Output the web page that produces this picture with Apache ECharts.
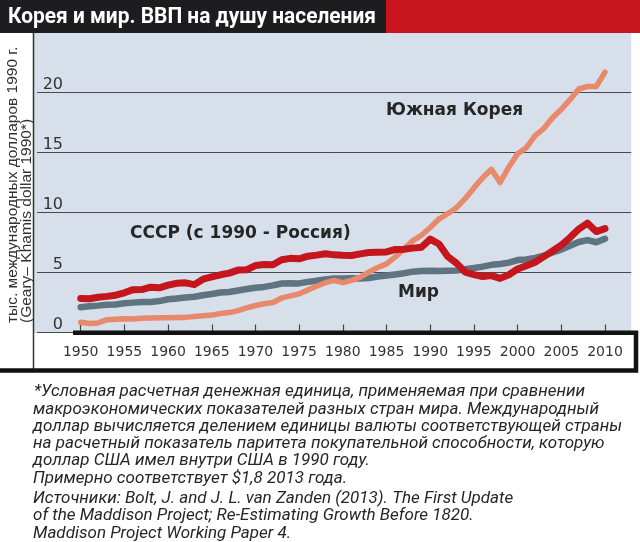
<!DOCTYPE html>
<html>
<head>
<meta charset="utf-8">
<script src="https://cdn.jsdelivr.net/npm/echarts@6/dist/echarts.min.js"></script>
<style>
html,body{margin:0;padding:0;background:#fff;}
#chart{width:640px;height:542px;}
</style>
</head>
<body>
<div id="chart"></div>
<script>
const years = [1950,1951,1952,1953,1954,1955,1956,1957,1958,1959,
  1960,1961,1962,1963,1964,1965,1966,1967,1968,1969,
  1970,1971,1972,1973,1974,1975,1976,1977,1978,1979,
  1980,1981,1982,1983,1984,1985,1986,1987,1988,1989,
  1990,1991,1992,1993,1994,1995,1996,1997,1998,1999,
  2000,2001,2002,2003,2004,2005,2006,2007,2008,2009,2010];

const southKorea = [0.85,0.75,0.80,1.07,1.10,1.14,1.12,1.18,1.21,1.23,
  1.23,1.25,1.26,1.33,1.40,1.45,1.58,1.66,1.82,2.05,
  2.25,2.40,2.50,2.88,3.05,3.22,3.55,3.85,4.15,4.35,
  4.15,4.35,4.62,5.05,5.42,5.72,6.30,6.95,7.65,8.10,
  8.75,9.45,9.90,10.40,11.15,12.05,12.90,13.60,12.50,13.80,
  14.90,15.40,16.40,17.00,17.90,18.60,19.40,20.30,20.50,20.50,21.70];

const ussrRussia = [2.84,2.81,2.94,3.01,3.11,3.31,3.57,3.58,3.78,3.72,
  3.95,4.10,4.14,3.99,4.44,4.63,4.81,4.95,5.20,5.23,
  5.58,5.67,5.64,6.06,6.18,6.14,6.36,6.45,6.56,6.47,
  6.43,6.42,6.55,6.66,6.68,6.71,6.92,6.94,7.03,7.10,
  7.78,7.37,6.33,5.78,5.04,4.83,4.66,4.74,4.51,4.81,
  5.29,5.57,5.86,6.32,6.79,7.28,7.91,8.62,9.11,8.41,8.66];

const world = [2.11,2.19,2.24,2.31,2.34,2.43,2.49,2.54,2.55,2.62,
  2.77,2.83,2.91,2.98,3.11,3.21,3.33,3.38,3.50,3.63,
  3.73,3.80,3.93,4.08,4.10,4.09,4.22,4.31,4.42,4.51,
  4.51,4.52,4.49,4.54,4.66,4.75,4.84,4.94,5.07,5.13,
  5.15,5.13,5.14,5.16,5.27,5.37,5.49,5.64,5.71,5.82,
  6.04,6.09,6.21,6.40,6.67,6.91,7.22,7.54,7.70,7.52,7.81];

const xTickLabels = [1950,1955,1960,1965,1970,1975,1980,1985,1990,1995,2000,2005,2010];
const yTickLabels = [0,5,10,15,20];

const titleText = 'Корея и мир. ВВП на душу населения';
const yAxisTitle = 'тыс. международных долларов 1990 г.\n(Geary– Khamis dollar 1990*)';
const labelKorea = 'Южная Корея';
const labelUSSR = 'СССР (с 1990 - Россия)';
const labelWorld = 'Мир';
const footnote1 = [
  '*Условная расчетная денежная единица, применяемая при сравнении',
  'макроэкономических показателей разных стран мира. Международный',
  'доллар вычисляется делением единицы валюты соответствующей страны',
  'на расчетный показатель паритета покупательной способности, которую',
  'доллар США имел внутри США в 1990 году.',
  'Примерно соответствует $1,8 2013 года.'
];
const footnote2 = [
  'Источники: Bolt, J. and J. L. van Zanden (2013). The First Update',
  'of the Maddison Project; Re-Estimating Growth Before 1820.',
  'Maddison Project Working Paper 4.'
];

function pairs(vals){ return years.map((y,i)=>[y, vals[i]]); }

const chart = echarts.init(document.getElementById('chart'), null, {renderer:'canvas'});

const graphics = [
  {type:'rect', shape:{x:0,y:0,width:386,height:33}, style:{fill:'#1d1d1f'}, z:20},
  {type:'rect', shape:{x:386,y:0,width:254,height:33}, style:{fill:'#c8151d'}, z:20},
  {type:'text', x:8, y:17, scaleX:0.95, z:21,
    style:{text:titleText, fill:'#ffffff', fontFamily:'Roboto', fontWeight:'bold', fontSize:22, verticalAlign:'middle'}},
  {type:'rect', shape:{x:34,y:33,width:4,height:300}, style:{fill:'#d6dfea'}, z:-1},
  {type:'line', shape:{x1:33.5,y1:33,x2:33.5,y2:370}, style:{stroke:'#333', lineWidth:1.5}, z:20},
  {type:'polyline', shape:{points:[[73,332.7],[636,332.7],[636,370.5],[0,370.5]]},
    style:{stroke:'#111', lineWidth:4.5, fill:null, lineJoin:'miter'}, z:20},
  {type:'text', x:6, y:323, rotation:Math.PI/2, z:20,
    style:{text:yAxisTitle, fill:'#333', fontFamily:'Liberation Sans', fontSize:15.5, lineHeight:14, align:'left', verticalAlign:'top'}},
  {type:'text', x:386, y:111, z:20,
    style:{text:labelKorea, fill:'#262626', fontFamily:'DejaVu Sans', fontWeight:'bold', fontSize:17, verticalAlign:'middle'}},
  {type:'text', x:130, y:234, z:20,
    style:{text:labelUSSR, fill:'#262626', fontFamily:'DejaVu Sans', fontWeight:'bold', fontSize:17, verticalAlign:'middle'}},
  {type:'text', x:398, y:293, z:20,
    style:{text:labelWorld, fill:'#262626', fontFamily:'DejaVu Sans', fontWeight:'bold', fontSize:17, verticalAlign:'middle'}}
];
const footStyle = {fill:'#262626', fontFamily:'Roboto', fontStyle:'italic', fontSize:17, verticalAlign:'middle'};
footnote1.forEach((t,i)=>{
  graphics.push({type:'text', x:(i===0?34:33), y:392 + i*17.3, z:20,
    style:Object.assign({text:t}, footStyle)});
});
footnote2.forEach((t,i)=>{
  graphics.push({type:'text', x:33, y:392 + 6*17.3 + 3 + i*17.3, z:20,
    style:Object.assign({text:t}, footStyle)});
});

const option = {
  animation:false,
  backgroundColor:'#ffffff',
  grid:{left:37, right:8.8, top:32.5, bottom:209.5, show:true, backgroundColor:'#d6dfea', borderWidth:0, containLabel:false, outerBoundsMode:'none'},
  xAxis:{
    type:'value', min:1945, max:2013, interval:5,
    axisLine:{show:false},
    splitLine:{show:false},
    axisTick:{show:true, inside:true, length:8, customValues:xTickLabels, lineStyle:{color:'#444', width:1.2}},
    axisLabel:{show:true, customValues:xTickLabels, margin:13, fontSize:14, fontFamily:'DejaVu Sans', color:'#333',
      formatter:function(v){ return String(v); }}
  },
  yAxis:{
    type:'value', min:0, max:25, interval:5,
    axisLine:{show:false},
    axisTick:{show:false},
    splitLine:{show:true, lineStyle:{color:'#444a50', width:1}},
    axisLabel:{show:true, customValues:yTickLabels, margin:-26, verticalAlign:'bottom', fontSize:16, fontFamily:'DejaVu Sans', color:'#333',
      formatter:function(v){ return String(v); }}
  },
  graphic:graphics,
  series:[
    {type:'line', name:'Мир', data:pairs(world), showSymbol:false, z:2,
      lineStyle:{color:'#5e7480', width:6.5, cap:'round', join:'round'}},
    {type:'line', name:'Южная Корея', data:pairs(southKorea), showSymbol:false, z:3,
      lineStyle:{color:'#e8896c', width:5.5, cap:'round', join:'round'}},
    {type:'line', name:'СССР (с 1990 - Россия)', data:pairs(ussrRussia), showSymbol:false, z:4,
      lineStyle:{color:'#c4161c', width:7, cap:'round', join:'round'}}
  ]
};
chart.setOption(option);
</script>
</body>
</html>
